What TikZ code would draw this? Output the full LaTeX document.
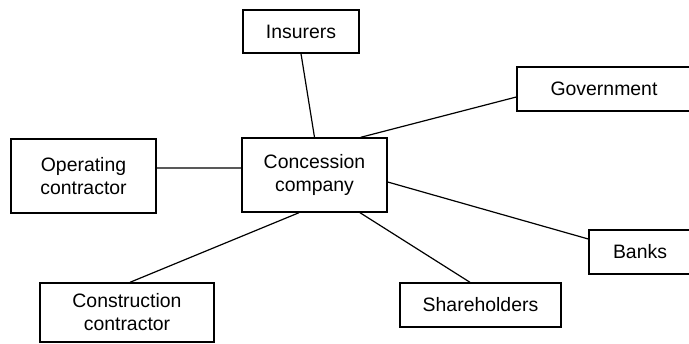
\documentclass[tikz,border=0pt]{standalone}
\usepackage{fontspec}
\setmainfont{Liberation Sans}
\begin{document}
\begin{tikzpicture}[x=1bp,y=-1bp,
  party/.style={draw=black, line width=1.4bp, inner sep=0pt, align=center,
    font=\fontsize{19.5}{23}\selectfont},
  link/.style={draw=black, line width=1.2bp}]
  \path[use as bounding box] (0,0) rectangle (689,343);
  \clip (0,0) rectangle (689,343);

  % parties around the concession company
  \node[party, minimum width=116bp, minimum height=43bp] (ins)   at (301,31.5)  {Insurers};
  \node[party, minimum width=174bp, minimum height=44bp] (gov)   at (604,89)    {Government};
  \node[party, minimum width=145bp, minimum height=74bp] (op)    at (83.5,176)  {Operating\\contractor};
  \node[party, minimum width=145bp, minimum height=74bp] (con)   at (314.5,175) {Concession\\company};
  \node[party, minimum width=102bp, minimum height=44bp] (bank)  at (640,252)   {Banks};
  \node[party, minimum width=161bp, minimum height=44bp] (share) at (480.5,305)  {Shareholders};
  \node[party, minimum width=174bp, minimum height=59bp] (cons)  at (127,312.5) {Construction\\contractor};

  % contractual links
  \draw[link] (ins.south) -- (con.north);
  \draw[link] ([yshift=-8bp]gov.west) -- ([xshift=-27bp]con.north east);
  \draw[link] ([yshift=8bp]op.east) -- ([yshift=7bp]con.west);
  \draw[link] ([yshift=-7bp]con.east) -- ([yshift=13bp]bank.west);
  \draw[link] ([xshift=45.5bp]con.south) -- ([xshift=-10.5bp]share.north);
  \draw[link] ([xshift=-15.5bp]con.south) -- ([xshift=3bp]cons.north);
\end{tikzpicture}
\end{document}
